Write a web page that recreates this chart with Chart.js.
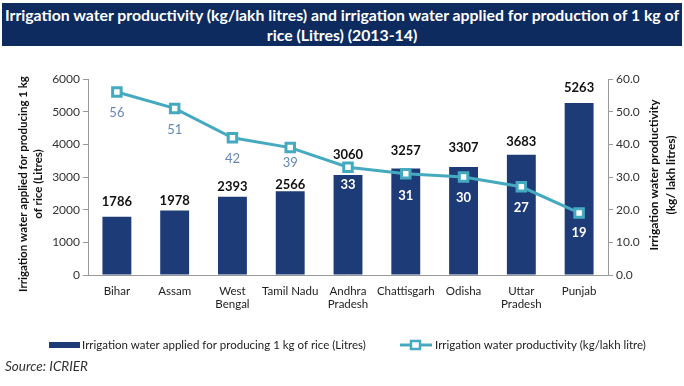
<!DOCTYPE html>
<html>
<head>
<meta charset="utf-8">
<script src="https://cdn.jsdelivr.net/npm/chart.js@4"></script>
<style>
  body { margin: 0; background: #fff; width: 684px; height: 386px; overflow: hidden; font-family: Lato, "Open Sans", sans-serif; }
  #title { position: absolute; left: 2px; top: 3px; width: 680px; height: 43px; background: #0d2b5e; color: #fff;
           font-weight: bold; font-size: 15.8px; line-height: 20px; text-align: center; padding-top: 2px; box-sizing: border-box; }
  #wrap { position: absolute; left: 0; top: 48px; width: 684px; height: 312px; }
  #source { position: absolute; left: 5px; top: 358px; font-style: italic; font-size: 13.5px; color: #333; }
</style>
</head>
<body>
<div id="title">Irrigation water productivity (kg/lakh litres) and irrigation water applied for production of 1 kg of<br>rice (Litres) (2013-14)</div>
<div id="wrap"><canvas id="chartRice"></canvas></div>
<div id="source">Source: ICRIER</div>
<script>
const states = ['Bihar', 'Assam', ['West', 'Bengal'], 'Tamil Nadu', ['Andhra', 'Pradesh'],
                'Chattisgarh', 'Odisha', ['Uttar', 'Pradesh'], 'Punjab'];
const waterApplied = [1786, 1978, 2393, 2566, 3060, 3257, 3307, 3683, 5263];
const productivity = [56, 51, 42, 39, 33, 31, 30, 27, 19];
const leftTicks = [0, 1000, 2000, 3000, 4000, 5000, 6000];
const rightTicks = [0, 10, 20, 30, 40, 50, 60];

// label placement (pixels), as hand-placed in the original
const barLabelGap = [15, 10, 10, 6, 20, 18, 19, 13, 15];
const lineLabelGap = [21, 21, 21, 15, 18, 22, 21, 21, 20];

const barName = 'Irrigation water applied for producing 1 kg of rice (Litres)';
const lineName = 'Irrigation water productivity (kg/lakh litre)';
const navy = '#1d3c77';
const teal = '#45a9c0';

// value labels, axis titles and legend
const extras = {
  id: 'extras',
  afterDatasetsDraw(chart) {
    const c = chart.ctx;
    const area = chart.chartArea;
    c.save();
    c.textAlign = 'center';
    c.textBaseline = 'middle';
    const bars = chart.getDatasetMeta(0).data;
    bars.forEach((b, i) => {
      c.font = 'bold 13px Lato';
      c.fillStyle = '#111';
      c.fillText(waterApplied[i], b.x, b.y - barLabelGap[i]);
    });
    const pts = chart.getDatasetMeta(1).data;
    pts.forEach((p, i) => {
      const ly = p.y + lineLabelGap[i];
      const inBar = ly > bars[i].y + 4;
      c.font = inBar ? 'bold 13px Lato' : '13px Lato';
      c.fillStyle = inBar ? '#ffffff' : '#6688b4';
      c.fillText(productivity[i], p.x, ly);
    });

    // axis titles
    c.font = 'bold 11.5px Lato';
    c.fillStyle = '#111';
    c.save();
    c.translate(23, 184 - 48);
    c.rotate(-Math.PI / 2);
    c.fillText('Irrigation water applied for producing 1 kg', 0, 0);
    c.fillText('of rice (Litres)', 0, 15);
    c.restore();
    c.save();
    c.font = 'bold 12px Lato';
    c.translate(654, 175 - 48);
    c.rotate(-Math.PI / 2);
    c.fillText('Irrigation water productivity', 0, 0);
    c.fillText('(kg/ lakh litres)', 0, 17);
    c.restore();

    // legend
    const ly = 297;
    c.font = '11.5px Lato';
    c.textAlign = 'left';
    c.fillStyle = navy;
    c.fillRect(49, ly - 3, 31, 6);
    c.fillStyle = '#222';
    c.fillText(barName, 82, ly);
    c.strokeStyle = teal;
    c.lineWidth = 3;
    c.beginPath();
    c.moveTo(400, ly);
    c.lineTo(432, ly);
    c.stroke();
    c.fillStyle = '#fff';
    c.lineWidth = 2.5;
    c.fillRect(411, ly - 4, 9, 8);
    c.strokeRect(411, ly - 4, 9, 8);
    c.fillStyle = '#222';
    c.fillText(lineName, 435, ly);
    c.restore();
  }
};

new Chart(document.getElementById('chartRice'), {
  data: {
    labels: states,
    datasets: [{
      type: 'bar',
      label: barName,
      data: waterApplied,
      backgroundColor: navy,
      barPercentage: 0.5,
      categoryPercentage: 1,
      yAxisID: 'y',
      order: 2
    }, {
      type: 'line',
      label: lineName,
      data: productivity,
      borderColor: teal,
      borderWidth: 3,
      pointStyle: 'rect',
      pointRadius: 6,
      pointBorderWidth: 3,
      pointBackgroundColor: '#fff',
      pointBorderColor: teal,
      yAxisID: 'y1',
      order: 1
    }]
  },
  options: {
    responsive: true,
    maintainAspectRatio: false,
    animation: false,
    layout: { padding: { top: 31, left: 0, right: 0, bottom: 0 } },
    plugins: { legend: { display: false }, tooltip: { enabled: false } },
    scales: {
      x: {
        grid: { display: false, drawOnChartArea: false, tickLength: 5, offset: true, color: '#999' },
        border: { color: '#999' },
        ticks: { color: '#222', font: { family: 'Lato', size: 11.5 }, maxRotation: 0, autoSkip: false, padding: 4 },
        afterFit: s => { s.height = 85; }
      },
      y: {
        position: 'left',
        min: 0, max: 6000,
        afterBuildTicks: s => { s.ticks = leftTicks.map(v => ({ value: v })); },
        grid: { drawOnChartArea: false, tickLength: 5, color: '#999' },
        border: { color: '#999' },
        ticks: { color: '#333', font: { family: 'Lato', size: 12 }, padding: 3, callback: v => String(v) },
        afterFit: s => { s.width = 88; }
      },
      y1: {
        position: 'right',
        min: 0, max: 60,
        afterBuildTicks: s => { s.ticks = rightTicks.map(v => ({ value: v })); },
        grid: { drawOnChartArea: false, tickLength: 5, color: '#999' },
        border: { color: '#999' },
        ticks: { color: '#333', font: { family: 'Lato', size: 12 }, padding: 3, callback: v => v.toFixed(1) },
        afterFit: s => { s.width = 76; }
      }
    }
  },
  plugins: [extras]
});
</script>
</body>
</html>
